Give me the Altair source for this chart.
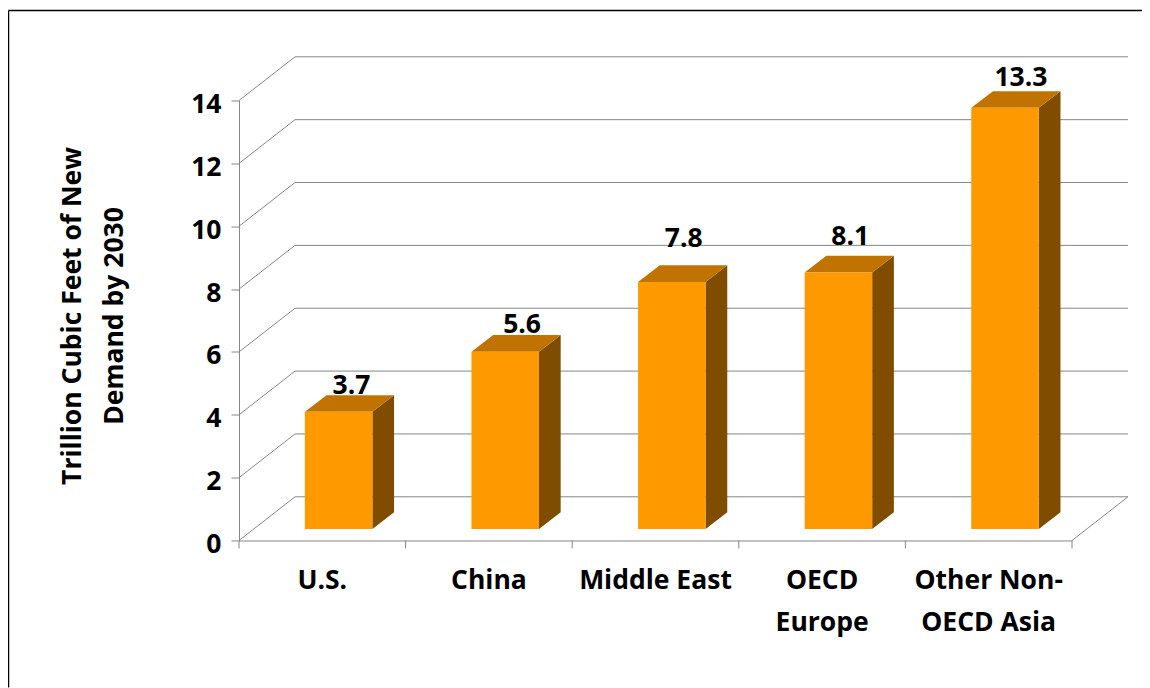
import altair as alt
import pandas as pd

categories = ["U.S.", "China", "Middle East", "OECD\nEurope", "Other Non-\nOECD Asia"]
values = [3.7, 5.6, 7.8, 8.1, 13.3]
value_labels = ["3.7", "5.6", "7.8", "8.1", "13.3"]
y_ticks = [0, 2, 4, 6, 8, 10, 12, 14]
cat_edges = [0, 1, 2, 3, 4, 5]

FONT = "Open Sans"
FS = 26.5
GRID = "#868686"
FRONT, TOP, SIDE = "#FF9900", "#C07300", "#804D00"

PW, PH = 833, 440
PX, PY = PW / 5, PH / 14          # pixels per category / per value unit
WALL_DX, WALL_DY = 56 / PX, 43.7 / PY
BAR_W = 67.5 / PX
BAR_SHIFT = 0.098
BAR_BASE = 11.5 / PY
BAR_GAIN = 1.0075                 # bars stand nearer the viewer than the back wall
BAR_DX, BAR_DY = 21.7 / PX, 16.7 / PY
LABEL_NUDGE_X = (2, 6, 1, 1, 5)
LABEL_NUDGE_Y = (-1.5, -2, -18, -11, -5)

xs = alt.Scale(domain=[0, 5], nice=False, zero=False)
ys = alt.Scale(domain=[0, 14], nice=False, zero=False)
x_axis = alt.Axis(values=[0], labels=False, ticks=False, grid=False, domainColor=GRID,
                  domainWidth=1, title=None)
y_axis = alt.Axis(
    values=y_ticks, grid=False, domainColor=GRID, tickColor=GRID, tickSize=8,
    labelFont=FONT, labelFontSize=FS, labelFontWeight="bold", labelColor="black",
    labelPadding=10, labelOffset=4, title=["Trillion Cubic Feet of New", "Demand by 2030"],
    titleFont=FONT, titleFontSize=FS, titleFontWeight="bold", titleColor="black",
    titleLineHeight=42, titleX=-159, titleY=215, titleAngle=270, titleBaseline="alphabetic",
)
X = lambda f="x": alt.X(f"{f}:Q", scale=xs, axis=x_axis)
Y = lambda f="y": alt.Y(f"{f}:Q", scale=ys, axis=y_axis)

# walls
wall = []
for v in y_ticks:
    wall += [
        {"g": f"a{v}", "x": 0, "y": v},
        {"g": f"a{v}", "x": WALL_DX, "y": v + WALL_DY},
        {"g": f"a{v}", "x": 5 + WALL_DX, "y": v + WALL_DY},
    ]
wall += [{"g": "floor", "x": 5, "y": 0}, {"g": "floor", "x": 5 + WALL_DX, "y": WALL_DY}]
walls = alt.Chart(pd.DataFrame(wall)).mark_line(color=GRID, strokeWidth=1).encode(
    x=X(), y=Y(), detail="g:N"
)

# bars
front, top, side, labels = [], [], [], []
for i, (v, lab) in enumerate(zip(values, value_labels)):
    x0 = i + 0.5 + BAR_SHIFT - BAR_W / 2
    x1 = x0 + BAR_W
    b = BAR_BASE
    t = v * BAR_GAIN + BAR_BASE
    front.append({"x": x0, "x2": x1, "y": b, "y2": t})
    top += [
        {"g": i, "x": x0, "y": t, "y2": t},
        {"g": i, "x": x0 + BAR_DX, "y": t, "y2": t + BAR_DY},
        {"g": i, "x": x1, "y": t, "y2": t + BAR_DY},
        {"g": i, "x": x1 + BAR_DX, "y": t + BAR_DY, "y2": t + BAR_DY},
    ]
    side += [
        {"g": i, "x": x1, "y": b, "y2": t},
        {"g": i, "x": x1 + BAR_DX, "y": b + BAR_DY, "y2": t + BAR_DY},
    ]
    labels.append({
        "x": i + 0.5 + BAR_SHIFT + BAR_DX / 2 + LABEL_NUDGE_X[i] / PX,
        "y": t + BAR_DY - LABEL_NUDGE_Y[i] / PY,
        "t": lab,
    })

side_m = alt.Chart(pd.DataFrame(side)).mark_area(color=SIDE, opacity=1).encode(
    x=X(), y=Y(), y2="y2:Q", detail="g:N"
)
top_m = alt.Chart(pd.DataFrame(top)).mark_area(color=TOP, opacity=1).encode(
    x=X(), y=Y(), y2="y2:Q", detail="g:N"
)
front_m = alt.Chart(pd.DataFrame(front)).mark_rect(color=FRONT).encode(
    x=X(), x2="x2:Q", y=Y(), y2="y2:Q"
)
label_m = alt.Chart(pd.DataFrame(labels)).mark_text(
    font=FONT, fontSize=FS, fontWeight="bold", color="black", baseline="alphabetic"
).encode(x=X(), y=Y(), text="t:N")

# category ticks and labels
tick_df = pd.DataFrame({"x": cat_edges, "y": [0] * 6, "y2": [-8 / PY] * 6})
ticks = alt.Chart(tick_df).mark_rule(color=GRID, strokeWidth=1).encode(x=X(), y=Y(), y2="y2:Q")
cat_df = pd.DataFrame({"x": [i + 0.5 for i in range(5)], "y": [-48.5 / PY] * 5, "t": categories})
cat_m = alt.Chart(cat_df).mark_text(
    font=FONT, fontSize=FS, fontWeight="bold", color="black",
    baseline="alphabetic", lineBreak="\n", lineHeight=42,
).encode(x=X(), y=Y(), text="t:N")

# outer frame
left_px, right_px, top_px, bot_px = -230.5, 903, 90, -147
frame = pd.DataFrame([
    {"g": "t", "x": left_px / PX, "y": 14 + top_px / PY},
    {"g": "t", "x": right_px / PX, "y": 14 + top_px / PY},
    {"g": "l", "x": left_px / PX, "y": 14 + top_px / PY},
    {"g": "l", "x": left_px / PX, "y": bot_px / PY},
])
frame_m = alt.Chart(frame).mark_line(color="black", strokeWidth=1.5).encode(x=X(), y=Y(), detail="g:N")

chart = alt.layer(frame_m, walls, ticks, side_m, top_m, front_m, label_m, cat_m).properties(
    width=PW, height=PH,
    padding={"left": 231, "top": 92.5, "right": 70, "bottom": 147.5},
    autosize=alt.AutoSizeParams(type="none"),
).configure_view(stroke=None)

chart.save("out.html", embed_options={"renderer": "svg", "actions": False})
